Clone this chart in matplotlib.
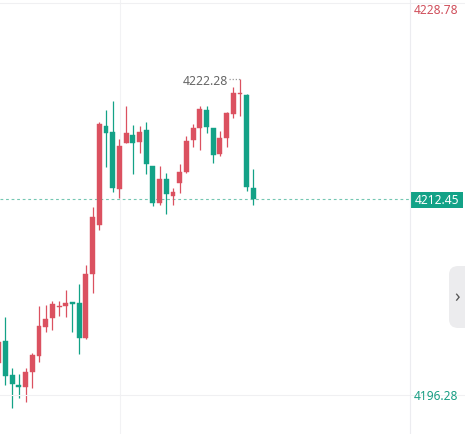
import matplotlib
matplotlib.use("Agg")
import matplotlib.pyplot as plt
from matplotlib.patches import FancyBboxPatch
import numpy as np

plt.rcParams['font.family'] = ['Noto Sans', 'DejaVu Sans']

# OHLC data (index 0 is the partially visible left candle)
opens = [4199.01, 4200.81, 4198.02, 4197.16, 4197.04, 4198.27, 4199.58, 4201.96, 4202.70, 4203.56,
         4203.68, 4204.01, 4203.93, 4201.06, 4206.30, 4210.32, 4218.43, 4217.94, 4213.27, 4217.04,
         4217.70, 4217.12, 4218.11, 4215.15, 4212.12, 4214.09, 4212.70, 4213.76, 4214.66, 4217.29,
         4218.27, 4219.75, 4218.27, 4216.14, 4217.45, 4219.42, 4221.02, 4220.97, 4213.35]
highs = [4201.30, 4202.78, 4198.60, 4198.11, 4198.60, 4199.83, 4203.68, 4203.76, 4204.09, 4204.09,
         4204.99, 4204.01, 4205.48, 4207.04, 4211.79, 4218.76, 4219.75, 4220.48, 4217.37, 4220.07,
         4218.52, 4218.43, 4218.76, 4215.15, 4215.15, 4214.58, 4213.35, 4215.32, 4217.61, 4218.60,
         4220.07, 4220.07, 4218.27, 4218.02, 4219.58, 4221.63, 4222.28, 4221.06, 4214.91]
lows = [4198.60, 4197.20, 4195.32, 4196.14, 4195.81, 4196.96, 4199.09, 4201.55, 4201.71, 4202.86,
        4202.78, 4201.55, 4199.75, 4200.97, 4204.75, 4209.91, 4215.07, 4213.02, 4212.53, 4217.04,
        4214.50, 4216.22, 4214.50, 4211.88, 4211.96, 4211.22, 4211.96, 4212.94, 4214.58, 4216.71,
        4216.43, 4217.86, 4215.42, 4215.97, 4216.71, 4219.09, 4219.24, 4213.14, 4211.96]
closes = [4200.73, 4197.94, 4197.29, 4197.08, 4198.27, 4199.66, 4202.04, 4202.61, 4203.84, 4203.64,
          4203.93, 4203.84, 4201.06, 4206.30, 4210.97, 4218.60, 4217.86, 4213.35, 4216.79, 4217.86,
          4217.04, 4217.94, 4215.32, 4212.12, 4214.09, 4212.86, 4213.02, 4214.66, 4217.20, 4218.27,
          4219.83, 4218.35, 4216.06, 4217.45, 4219.50, 4221.14, 4221.10, 4213.47, 4212.45]
# crosses drawn with the colour they have in the chart
is_up = [True, False, False, False, True, True, True, True, True, True,
         True, False, False, True, True, True, False, False, True, True,
         False, True, False, False, True, False, True, True, True, True,
         True, False, False, True, True, True, True, False, False]

axis_top_label = "4228.78"
axis_bottom_label = "4196.28"
last_price = 4212.45
last_label = "4212.45"
high_value = 4222.28
high_label = "4222.28"

RED = '#db5160'
GREEN = '#13a287'

W, H = 465, 434
fig = plt.figure(figsize=(W / 100, H / 100), dpi=100)
fig.patch.set_facecolor('white')
ax = fig.add_axes([0, 0, 410 / W, 1])
ax.set_facecolor('white')

x = np.arange(len(opens))
ax.set_xlim(0.18, 61.37)
ax.set_ylim(4193.19, 4228.76)

# faint grid
ax.axvline(18.09, color='#f2f2f4', lw=0.8, zorder=0)
fig.add_artist(plt.Line2D([0, 1], [1 - 3 / H, 1 - 3 / H], transform=fig.transFigure, color='#f0f0f2', lw=0.8))
fig.add_artist(plt.Line2D([0, 1], [1 - 395 / H, 1 - 395 / H], transform=fig.transFigure, color='#f0f0f2', lw=0.8))
fig.add_artist(plt.Line2D([410 / W, 410 / W], [0, 1], transform=fig.transFigure, color='#ececf0', lw=0.8))

colors = [RED if u else GREEN for u in is_up]
bottoms = [min(o, c) for o, c in zip(opens, closes)]
heights = [max(abs(c - o), 0.09) for o, c in zip(opens, closes)]

ax.vlines(x, lows, highs, colors=colors, lw=0.9, zorder=2)
ax.bar(x, heights, bottom=bottoms, width=0.72, color=colors, edgecolor=colors, lw=0.3, zorder=3)

# last price dashed line
ax.axhline(last_price, color='#74c7b2', lw=0.8, ls=(0, (2.5, 2.5)), zorder=1)

# high annotation
i_high = int(np.argmax(highs))
ax.plot([i_high - 1.6, i_high], [high_value, high_value], color='#999999', lw=0.9, ls=(0, (1, 1.5)), zorder=2)
ax.text(i_high - 1.8, high_value - 0.2, high_label, ha='right', va='center', fontsize=8.8, color='#666666')

for s in ax.spines.values():
    s.set_visible(False)
ax.set_xticks([])
ax.set_yticks([])

# right axis labels
fig.text(436 / W, 1 - 11 / H, axis_top_label, ha='center', va='center', fontsize=8.6, color='#d0505c')
fig.text(436 / W, 1 - 397 / H, axis_bottom_label, ha='center', va='center', fontsize=8.6, color='#1a9e84')
box = FancyBboxPatch((411 / W, 1 - 208 / H), 52 / W, 16 / H, boxstyle='square,pad=0',
                     transform=fig.transFigure, facecolor=GREEN, edgecolor='none')
fig.add_artist(box)
fig.text(437 / W, 1 - 200 / H, last_label, ha='center', va='center', fontsize=8.6, color='white')

# side button
btn = FancyBboxPatch((449 / W, 1 - 328 / H), 30 / W, 62 / H,
                     boxstyle='round,pad=0,rounding_size=0.02',
                     transform=fig.transFigure, facecolor='#ececee', edgecolor='none')
fig.add_artist(btn)
fig.text(457 / W, 1 - 297 / H, '›', ha='center', va='center', fontsize=13, color='#555555')

fig.savefig('out.png', dpi=100, facecolor='white')
